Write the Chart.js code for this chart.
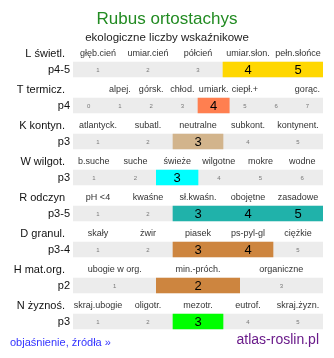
<!DOCTYPE html>
<html>
<head>
<meta charset="utf-8">
<script src="https://cdn.jsdelivr.net/npm/chart.js@4"></script>
<style>
  body { margin: 0; background: #fff; font-family: "Liberation Sans", Arial, sans-serif; }
  #wrap { position: relative; width: 334px; height: 358px; }
  #title { position: absolute; left: 0; width: 334px; top: 9px; text-align: center; color: #228b22; font-size: 17px; }
  #subtitle { position: absolute; left: 0; width: 334px; top: 31px; text-align: center; color: #222; font-size: 11.5px; }
  #more { position: absolute; left: 10px; top: 336px; color: #3333ff; font-size: 11px; text-decoration: none; }
  #site { position: absolute; right: 15px; top: 331px; color: #6a1b8a; font-size: 14px; }
  canvas { position: absolute; left: 0; top: 0; }
</style>
</head>
<body>
<div id="wrap">
  <canvas id="chart" width="334" height="358"></canvas>
  <div id="title">Rubus ortostachys</div>
  <div id="subtitle">ekologiczne liczby wskaźnikowe</div>
  <a id="more" href="#">objaśnienie, źródła »</a>
  <div id="site">atlas-roslin.pl</div>
</div>
<script>
// rows of the indicator table
var rowNames = ['L świetl.', 'T termicz.', 'K kontyn.', 'W wilgot.', 'R odczyn', 'D granul.', 'H mat.org.', 'N żyznoś.'];
var rowValues = ['p4-5', 'p4', 'p3', 'p3', 'p3-5', 'p3-4', 'p2', 'p3'];
var cellLabels = [
  ['głęb.cień', 'umiar.cień', 'półcień', 'umiar.słon.', 'pełn.słońce'],
  ['', 'alpej.', 'górsk.', 'chłod.', 'umiark.', 'ciepł.+', '', 'gorąc.'],
  ['atlantyck.', 'subatl.', 'neutralne', 'subkont.', 'kontynent.'],
  ['b.suche', 'suche', 'świeże', 'wilgotne', 'mokre', 'wodne'],
  ['pH <4', 'kwaśne', 'sł.kwaśn.', 'obojętne', 'zasadowe'],
  ['skały', 'żwir', 'piasek', 'ps-pyl-gl', 'ciężkie'],
  ['ubogie w org.', 'min.-próch.', 'organiczne'],
  ['skraj.ubogie', 'oligotr.', 'mezotr.', 'eutrof.', 'skraj.żyzn.']
];
var firstNumber = [1, 0, 1, 1, 1, 1, 1, 1];
var valueFrom = [4, 4, 3, 3, 3, 3, 2, 3];
var valueTo = [5, 4, 3, 3, 5, 4, 2, 3];
var rowColors = ['#ffd700', '#ff7f50', '#d2b48c', '#00ffff', '#20b2aa', '#cd853f', '#cd853f', '#00ff00'];

var bgData = rowNames.map(function() { return [0, 1]; });
var hlData = rowNames.map(function(r, i) {
  var n = cellLabels[i].length;
  return [(valueFrom[i] - firstNumber[i]) / n, (valueTo[i] - firstNumber[i] + 1) / n];
});

var textPlugin = {
  id: 'tableText',
  afterDatasetsDraw: function(chart) {
    var ctx = chart.ctx;
    var xs = chart.scales.x, ys = chart.scales.y;
    var left = chart.chartArea.left, right = chart.chartArea.right;
    ctx.save();
    ctx.textBaseline = 'middle';
    for (var i = 0; i < rowNames.length; i++) {
      var yc = ys.getPixelForValue(i);
      var barTop = yc - 7.5;
      ctx.font = '11px "Liberation Sans", Arial, sans-serif';
      ctx.fillStyle = '#111';
      ctx.textAlign = 'right';
      ctx.fillText(rowNames[i], 65, barTop - 8);
      ctx.fillText(rowValues[i], 70, yc);
      var n = cellLabels[i].length;
      for (var j = 0; j < n; j++) {
        var xc = xs.getPixelForValue((j + 0.5) / n);
        var num = j + firstNumber[i];
        // label above cell, kept inside the bar
        ctx.font = '9px "Liberation Sans", Arial, sans-serif';
        ctx.fillStyle = '#333';
        ctx.textAlign = 'center';
        var w = ctx.measureText(cellLabels[i][j]).width;
        var lx = Math.max(left + w / 2, Math.min(right - w / 2, xc));
        ctx.fillText(cellLabels[i][j], lx, barTop - 8);
        if (num >= valueFrom[i] && num <= valueTo[i]) {
          ctx.font = '13px "Liberation Sans", Arial, sans-serif';
          ctx.fillStyle = '#000';
        } else {
          ctx.font = '6px "Liberation Sans", Arial, sans-serif';
          ctx.fillStyle = '#777';
        }
        ctx.fillText(String(num), xc, yc + 0.5);
      }
    }
    ctx.restore();
  }
};

// first dataset is drawn on top, so the highlight goes first
var chart = new Chart(document.getElementById('chart').getContext('2d'), {
  type: 'bar',
  data: {
    labels: rowNames,
    datasets: [{
      data: hlData,
      backgroundColor: rowColors,
      grouped: false,
      barThickness: 15,
      borderWidth: 0
    }, {
      data: bgData,
      backgroundColor: '#ececec',
      grouped: false,
      barThickness: 15,
      borderWidth: 0
    }]
  },
  options: {
    indexAxis: 'y',
    responsive: false,
    animation: false,
    layout: { padding: { top: 51.5, bottom: 18.5, left: 73, right: 11 } },
    scales: {
      x: { display: false, type: 'linear', min: 0, max: 1 },
      y: { display: false, type: 'category' }
    },
    plugins: { legend: { display: false }, tooltip: { enabled: false } }
  },
  plugins: [textPlugin]
});
</script>
</body>
</html>
